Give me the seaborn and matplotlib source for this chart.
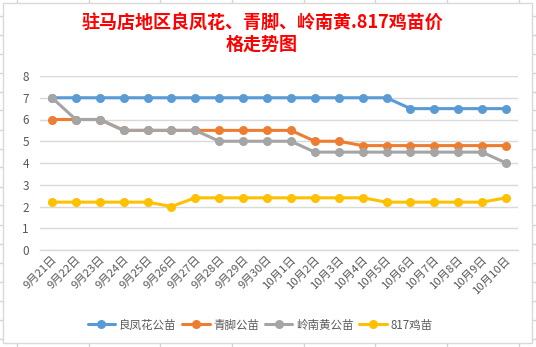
import numpy as np
import pandas as pd
import matplotlib
matplotlib.use("Agg")
import matplotlib.pyplot as plt
from matplotlib.lines import Line2D
from matplotlib.patches import Rectangle
import seaborn as sns

dates = ["9月21日", "9月22日", "9月23日", "9月24日", "9月25日", "9月26日", "9月27日",
         "9月28日", "9月29日", "9月30日", "10月1日", "10月2日", "10月3日", "10月4日",
         "10月5日", "10月6日", "10月7日", "10月8日", "10月9日", "10月10日"]
liangfenghua = [7, 7, 7, 7, 7, 7, 7, 7, 7, 7, 7, 7, 7, 7, 7, 6.5, 6.5, 6.5, 6.5, 6.5]
qingjiao = [6, 6, 6, 5.5, 5.5, 5.5, 5.5, 5.5, 5.5, 5.5, 5.5, 5.0, 5.0, 4.8, 4.8, 4.8, 4.8, 4.8, 4.8, 4.8]
lingnanhuang = [7, 6, 6, 5.5, 5.5, 5.5, 5.5, 5.0, 5.0, 5.0, 5.0, 4.5, 4.5, 4.5, 4.5, 4.5, 4.5, 4.5, 4.5, 4.0]
chick817 = [2.2, 2.2, 2.2, 2.2, 2.2, 2.0, 2.4, 2.4, 2.4, 2.4, 2.4, 2.4, 2.4, 2.4, 2.2, 2.2, 2.2, 2.2, 2.2, 2.4]
series_names = ["良凤花公苗", "青脚公苗", "岭南黄公苗", "817鸡苗"]
series_values = [liangfenghua, qingjiao, lingnanhuang, chick817]
colors = ["#5B9BD5", "#ED7D31", "#A5A5A5", "#FFC000"]
title = "驻马店地区良凤花、青脚、岭南黄.817鸡苗价\n格走势图"
yticks = [0, 1, 2, 3, 4, 5, 6, 7, 8]

sns.set_style("white")
plt.rcParams['font.family'] = ['Noto Sans CJK SC', 'DejaVu Sans']

W, H = 536, 347
fig = plt.figure(figsize=(W / 100, H / 100), dpi=100)
fig.patch.set_facecolor("white")

# Spreadsheet cell grid behind the chart
grid_c = "#d4d4d4"
for xv in [17, 88.5, 160, 232, 303.5, 375, 447, 519]:
    fig.add_artist(Line2D([xv / W, xv / W], [0, 1], color=grid_c, lw=1, transform=fig.transFigure, zorder=0))
for yv in np.arange(15.5, H, 19):
    fig.add_artist(Line2D([0, 1], [1 - yv / H, 1 - yv / H], color=grid_c, lw=1, transform=fig.transFigure, zorder=0))
# chart area
fig.add_artist(Rectangle((3 / W, 1 - 343 / H), (532 - 3) / W, (343 - 3) / H, transform=fig.transFigure,
                         facecolor="white", edgecolor="#d9d9d9", lw=1, zorder=0.5))

ax = fig.add_axes([40 / W, 1 - 250 / H, 478 / W, 174 / H])
ax.set_facecolor("none")
ax.set_zorder(2)

idx = np.arange(len(dates))
rows = []
for name, vals in zip(series_names, series_values):
    for i, v in zip(idx, vals):
        rows.append({"idx": i, "value": v, "series": name})
df = pd.DataFrame(rows)

for name, col in zip(series_names, colors):
    sub = df[df["series"] == name]
    sns.lineplot(data=sub, x="idx", y="value", ax=ax, color=col, marker="o", markersize=6.5,
                 markeredgecolor=col, markeredgewidth=0, linewidth=2.2, label=name, legend=False)

ax.set_xlim(-0.5, len(dates) - 0.5)
ax.set_ylim(0, 8)
ax.set_yticks(yticks)
ax.set_yticklabels([str(t) for t in yticks], fontsize=8.5, color="#595959")
ax.grid(axis="y", color="#d9d9d9", lw=1)
ax.grid(axis="x", visible=False)
ax.tick_params(axis="y", length=0, pad=8)
for s in ["left", "right", "top"]:
    ax.spines[s].set_visible(False)
ax.spines["bottom"].set_color("#d9d9d9")
ax.spines["bottom"].set_linewidth(1)
ax.set_xticks(idx)
ax.set_xticklabels(dates, rotation=45, ha="right", va="top", rotation_mode="anchor",
                   fontsize=8.2, color="#595959")
ax.tick_params(axis="x", length=0, pad=3)
ax.set_xticks(np.arange(-0.5, len(dates)), minor=True)
ax.tick_params(axis="x", which="minor", length=5, color="#d9d9d9", width=1, direction="out")
ax.set_xlabel("")
ax.set_ylabel("")

fig.text(262 / W, 1 - 34 / H, title, ha="center", va="center", color="#FF0000", fontsize=13,
         fontweight="bold", linespacing=1.15)

handles = [Line2D([0], [0], color=c, lw=2.2, marker="o", markersize=6.5, markeredgewidth=0) for c in colors]
fig.legend(handles, series_names, loc="center", bbox_to_anchor=(260 / W, 1 - 325 / H), ncol=4,
           frameon=False, fontsize=8.3, handlelength=2.4, columnspacing=0.5, handletextpad=0.3,
           labelcolor="#595959")

fig.savefig("out.png", dpi=100)
